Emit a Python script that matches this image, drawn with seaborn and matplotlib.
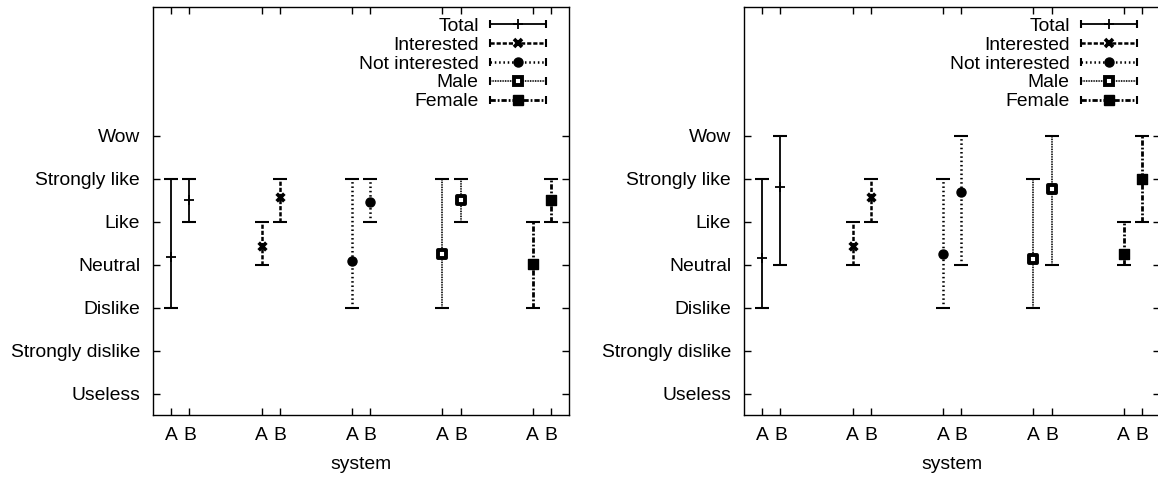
import numpy as np
import matplotlib
matplotlib.use("Agg")
import matplotlib.pyplot as plt
import seaborn as sns
from matplotlib.lines import Line2D
from matplotlib.legend_handler import HandlerBase

# Rating scale
rating_labels = ["Useless", "Strongly dislike", "Dislike", "Neutral",
                 "Like", "Strongly like", "Wow"]
rating_values = [-3, -2, -1, 0, 1, 2, 3]

groups = ["Total", "Interested", "Not interested", "Male", "Female"]
systems = ["A", "B"]

# Panel 1: (system A, system B) centre, low, high per group
p1_mid = {"Total": [0.19, 1.50], "Interested": [0.44, 1.57],
          "Not interested": [0.09, 1.46], "Male": [0.25, 1.50],
          "Female": [0.02, 1.50]}
p1_low = {"Total": [-1, 1], "Interested": [0, 1], "Not interested": [-1, 1],
          "Male": [-1, 1], "Female": [-1, 1]}
p1_high = {"Total": [2, 2], "Interested": [1, 2], "Not interested": [2, 2],
           "Male": [2, 2], "Female": [1, 2]}

# Panel 2
p2_mid = {"Total": [0.16, 1.80], "Interested": [0.44, 1.57],
          "Not interested": [0.24, 1.69], "Male": [0.14, 1.76],
          "Female": [0.25, 2.00]}
p2_low = {"Total": [-1, 0], "Interested": [0, 1], "Not interested": [-1, 0],
          "Male": [-1, 0], "Female": [0, 1]}
p2_high = {"Total": [2, 3], "Interested": [1, 2], "Not interested": [2, 3],
           "Male": [2, 3], "Female": [1, 3]}

styles = {
    "Total": dict(dashes=None, marker="+", ms=7, mew=1.3, mfc="black", lw=1.3),
    "Interested": dict(dashes=(3.0, 1.4), marker="x", ms=5.5, mew=2.6, mfc="black", lw=1.8),
    "Not interested": dict(dashes=(1.1, 2.0), marker="o", ms=6.5, mew=1.0, mfc="black", lw=1.8),
    "Male": dict(dashes=(0.6, 0.6), marker="s", ms=6.0, mew=2.8, mfc="white", lw=1.4),
    "Female": dict(dashes=(3.8, 1.4, 1.3, 1.4), marker="s", ms=6.5, mew=1.0, mfc="black", lw=2.0),
}

sns.set_theme(style="ticks")
plt.rcParams["font.family"] = ["Liberation Sans", "DejaVu Sans"]
plt.rcParams["lines.scale_dashes"] = False
plt.rcParams["text.color"] = "black"
plt.rcParams["axes.labelcolor"] = "black"
plt.rcParams["xtick.color"] = "black"
plt.rcParams["ytick.color"] = "black"
FS = 13.9


class CapLineHandler(HandlerBase):
    """Horizontal error-bar sample with end caps and a centred marker."""

    def create_artists(self, legend, orig, xdescent, ydescent, width, height,
                       fontsize, trans):
        st = styles[orig.get_label()]
        y = height / 2 - ydescent
        x0, x1 = -xdescent, width - xdescent
        line = Line2D([x0, x1], [y, y], color="black", lw=st["lw"],
                      dash_capstyle="butt")
        if st["dashes"] is not None:
            line.set_dashes(st["dashes"])
        caps = Line2D([x0, x1], [y, y], ls="none", marker="|", ms=6,
                      mew=1.5, color="black")
        mark = Line2D([(x0 + x1) / 2], [y], ls="none", marker=st["marker"],
                      ms=st["ms"], mew=st["mew"], mfc=st["mfc"], mec="black")
        for a in (line, caps, mark):
            a.set_transform(trans)
        return [line, caps, mark]


def draw_panel(ax, mid, low, high):
    handles = []
    for gi, g in enumerate(groups):
        st = styles[g]
        xs = np.array([gi + 1 - 0.1, gi + 1 + 0.1])
        ys = np.array(mid[g])
        lo = ys - np.array(low[g])
        hi = np.array(high[g]) - ys
        cont = ax.errorbar(xs, ys, yerr=[lo, hi], fmt="none", ecolor="black",
                           elinewidth=st["lw"], capsize=5, capthick=1.5,
                           zorder=2)
        for lc in cont.lines[2]:
            if st["dashes"] is not None:
                lc.set_linestyle((0, st["dashes"]))
        sns.scatterplot(x=xs, y=ys, ax=ax, marker=st["marker"],
                        s=st["ms"] ** 2, linewidth=st["mew"],
                        facecolor=st["mfc"], edgecolor="black",
                        color="black", zorder=3, legend=False)
        handles.append(Line2D([], [], label=g))

    ax.set_xlim(0.7, 5.3)
    ax.set_ylim(-3.5, 6.0)
    ticks_x = [gi + 1 + d for gi in range(len(groups)) for d in (-0.1, 0.1)]
    ax.set_xticks(ticks_x)
    ax.set_xticklabels(systems * len(groups), fontsize=FS)
    ax.set_yticks(rating_values)
    ax.set_yticklabels(rating_labels, fontsize=FS)
    ax.tick_params(axis="both", direction="in", length=5, width=1.0,
                   top=True, right=True, color="black", labelcolor="black")
    ax.tick_params(axis="y", pad=9.5)
    ax.tick_params(axis="x", pad=9)
    for sp in ax.spines.values():
        sp.set_visible(True)
        sp.set_linewidth(1.0)
        sp.set_color("black")
    ax.set_xlabel("system", fontsize=FS, labelpad=8.2, color="black")
    ax.grid(False)

    ax.legend(handles=handles, handler_map={Line2D: CapLineHandler()},
              loc="upper right", frameon=False, fontsize=FS,
              markerfirst=False, handlelength=2.9, handletextpad=0.6,
              labelspacing=0.07, borderaxespad=0.0, borderpad=0.3,
              bbox_to_anchor=(1 - 17 / 416, 1 - 4.5 / 408),
              alignment="right")


fig = plt.figure(figsize=(11.58, 4.79), dpi=100)
ax1 = fig.add_axes([153.3 / 1158, 64 / 479, 415.7 / 1158, 408 / 479])
ax2 = fig.add_axes([744.3 / 1158, 64 / 479, 415.7 / 1158, 408 / 479])
draw_panel(ax1, p1_mid, p1_low, p1_high)
draw_panel(ax2, p2_mid, p2_low, p2_high)

fig.savefig("out.png", dpi=100)
